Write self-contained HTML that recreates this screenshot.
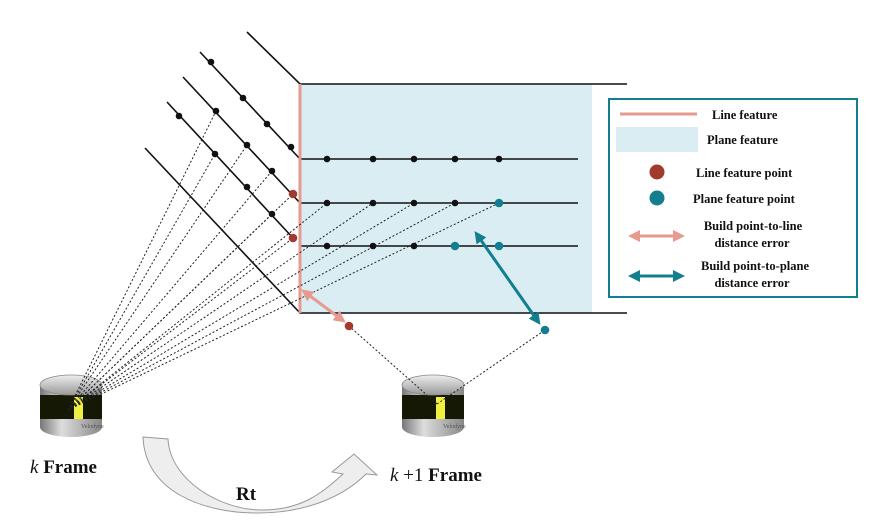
<!DOCTYPE html>
<html><head><meta charset="utf-8"><style>
html,body{margin:0;padding:0;background:#fff;}
svg{display:block;}
text{font-family:"Liberation Serif",serif;font-weight:bold;fill:#111;}
</style></head><body>
<svg width="870" height="532" viewBox="0 0 870 532" xmlns="http://www.w3.org/2000/svg">
<defs>
<linearGradient id="side" x1="0" x2="1">
<stop offset="0" stop-color="#777"/><stop offset="0.35" stop-color="#ddd"/><stop offset="1" stop-color="#888"/>
</linearGradient>
<linearGradient id="topg" x1="0" y1="0" x2="0" y2="1">
<stop offset="0" stop-color="#eee"/><stop offset="1" stop-color="#999"/>
</linearGradient>
<g id="lidar">
<path d="M-31,0 L-31,42 A31,10 0 0 0 31,42 L31,0 Z" fill="url(#side)"/>
<rect x="-31" y="10" width="62" height="24" fill="#151805"/>
<rect x="3" y="12" width="9" height="22" fill="#f0f040"/>
<ellipse cx="0" cy="0" rx="31" ry="10" fill="url(#topg)" stroke="#888" stroke-width="0.8"/>
<text x="10" y="43" font-size="6" style="font-weight:normal;fill:#555">Velodyne</text>
</g>
<marker id="pa" markerWidth="4" markerHeight="4" refX="2" refY="2" orient="auto-start-reverse"><path d="M0,0 L4,2 L0,4 Z" fill="#e79a90"/></marker>
<marker id="ta" markerWidth="4" markerHeight="4" refX="2" refY="2" orient="auto-start-reverse"><path d="M0,0 L4,2 L0,4 Z" fill="#137f8e"/></marker>
</defs>

<rect x="300" y="84" width="292" height="229" fill="#d9edf2"/>

<g stroke="#111" stroke-width="1.6" fill="none">
<path d="M247,32 L300,84 L627,84"/>
<path d="M200,52 L300,159 L578,159"/>
<path d="M183,77 L300,203 L578,203"/>
<path d="M167,102 L293,238"/>
<path d="M300,246 L578,246"/>
<path d="M145,148 L300,313 L627,313"/>
</g>
<line x1="300" y1="84" x2="300" y2="313" stroke="#e79a90" stroke-width="3"/>

<use href="#lidar" x="71" y="385"/>
<use href="#lidar" x="433" y="385"/>

<g stroke="#222" stroke-width="1" stroke-dasharray="2,2" fill="none">
<line x1="68" y1="410" x2="216" y2="111"/>
<line x1="68" y1="410" x2="247" y2="145"/>
<line x1="68" y1="410" x2="272" y2="171"/>
<line x1="68" y1="410" x2="215" y2="154"/>
<line x1="68" y1="410" x2="272" y2="214"/>
<line x1="68" y1="410" x2="327" y2="203"/>
<line x1="68" y1="410" x2="373" y2="203"/>
<line x1="68" y1="410" x2="414" y2="203"/>
<line x1="68" y1="410" x2="455" y2="203"/>
<line x1="68" y1="410" x2="499" y2="203"/>
<line x1="68" y1="410" x2="293" y2="194"/>
<line x1="68" y1="410" x2="293" y2="238"/>
<line x1="437" y1="404" x2="349" y2="326"/>
<line x1="437" y1="404" x2="545" y2="330"/>
</g>

<g fill="#111">
<circle cx="211" cy="62" r="3.3"/><circle cx="243" cy="98" r="3.3"/><circle cx="267" cy="124" r="3.3"/><circle cx="291" cy="147" r="3.3"/>
<circle cx="216" cy="111" r="3.3"/><circle cx="247" cy="145" r="3.3"/><circle cx="272" cy="171" r="3.3"/>
<circle cx="179" cy="116" r="3.3"/><circle cx="215" cy="154" r="3.3"/><circle cx="247" cy="187" r="3.3"/><circle cx="272" cy="214" r="3.3"/>
<circle cx="327" cy="159" r="3.3"/><circle cx="373" cy="159" r="3.3"/><circle cx="414" cy="159" r="3.3"/><circle cx="455" cy="159" r="3.3"/><circle cx="499" cy="159" r="3.3"/>
<circle cx="327" cy="203" r="3.3"/><circle cx="373" cy="203" r="3.3"/><circle cx="414" cy="203" r="3.3"/><circle cx="455" cy="203" r="3.3"/>
<circle cx="327" cy="246" r="3.3"/><circle cx="373" cy="246" r="3.3"/><circle cx="414" cy="246" r="3.3"/>
</g>
<g fill="#137f8e">
<circle cx="499" cy="203" r="4.3"/><circle cx="455" cy="246" r="4.3"/><circle cx="499" cy="246" r="4.3"/><circle cx="545" cy="330" r="4.3"/>
</g>
<g fill="#a33a2e">
<circle cx="293" cy="194" r="4.3"/><circle cx="293" cy="238" r="4.3"/><circle cx="349" cy="326" r="4.3"/>
</g>

<line x1="306" y1="293" x2="341" y2="319" stroke="#e79a90" stroke-width="3" marker-start="url(#pa)" marker-end="url(#pa)"/>
<line x1="478" y1="236" x2="537" y2="320" stroke="#137f8e" stroke-width="3" marker-start="url(#ta)" marker-end="url(#ta)"/>

<path d="M143,437 L168,439 C170,480 220,510 262,510 C300,510 320,495 343,474 L332,472 L354,454 L377,475 L366,474 C340,500 300,513 258,513 C200,513 145,490 143,437 Z" fill="#eee" stroke="#999" stroke-width="1"/>

<text x="30" y="473" font-size="19"><tspan style="font-style:italic;font-weight:normal">k</tspan> Frame</text>
<text x="390" y="481" font-size="19"><tspan style="font-style:italic;font-weight:normal">k</tspan><tspan style="font-weight:normal"> +1</tspan> Frame</text>
<text x="236" y="500" font-size="19">Rt</text>

<rect x="609" y="99" width="248" height="198" fill="#fff" stroke="#137f8e" stroke-width="2"/>
<line x1="620" y1="114" x2="697" y2="114" stroke="#e79a90" stroke-width="3"/>
<text x="712" y="119" font-size="12.5">Line feature</text>
<rect x="616" y="127" width="82" height="25" fill="#d9edf2"/>
<text x="707" y="144" font-size="12.5">Plane feature</text>
<circle cx="657" cy="172" r="7.5" fill="#a33a2e"/>
<text x="696" y="177" font-size="12.5">Line feature point</text>
<circle cx="657" cy="198" r="7.5" fill="#137f8e"/>
<text x="693" y="203" font-size="12.5">Plane feature point</text>
<line x1="634" y1="236" x2="679" y2="236" stroke="#e79a90" stroke-width="3" marker-start="url(#pa)" marker-end="url(#pa)"/>
<text x="753" y="230" font-size="12.5" text-anchor="middle">Build point-to-line</text>
<text x="752" y="247" font-size="12.5" text-anchor="middle">distance error</text>
<line x1="634" y1="276" x2="679" y2="276" stroke="#137f8e" stroke-width="3" marker-start="url(#ta)" marker-end="url(#ta)"/>
<text x="755" y="270" font-size="12.5" text-anchor="middle">Build point-to-plane</text>
<text x="752" y="287" font-size="12.5" text-anchor="middle">distance error</text>
</svg>
</body></html>
